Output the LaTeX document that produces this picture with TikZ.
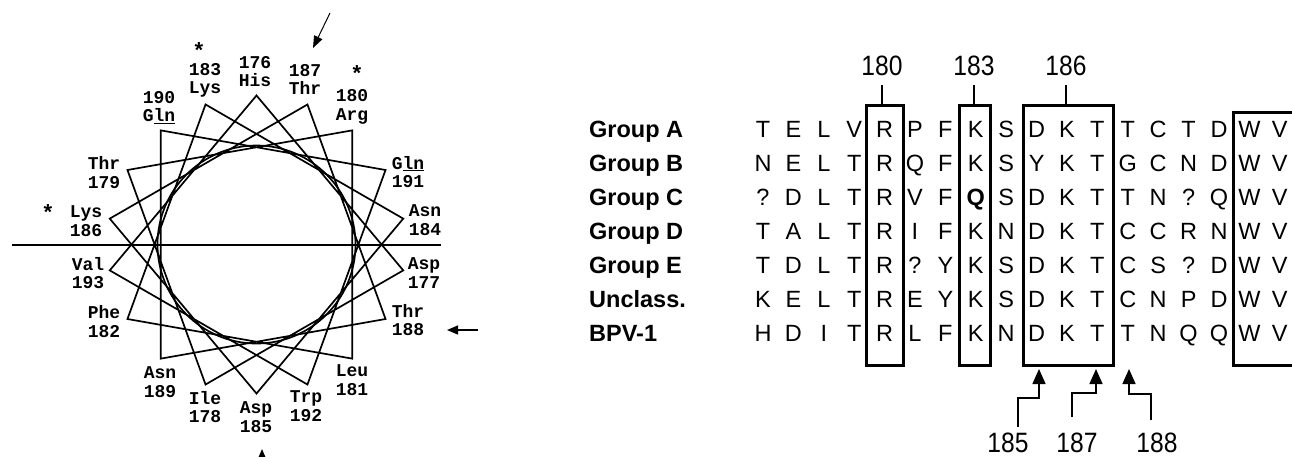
\documentclass[tikz,border=0pt]{standalone}
\usepackage{fontspec}
\setmainfont{Liberation Sans}
\newfontfamily\wheelfont{Liberation Mono}
\newfontfamily\numfont{Liberation Sans}[FakeStretch=0.88]
\usetikzlibrary{arrows.meta}
\begin{document}
\begin{tikzpicture}[x=1pt,y=-1pt,
  wl/.style={font=\wheelfont\bfseries\fontsize{18}{18.5}\selectfont, align=center, inner sep=0pt},
  starmark/.style={font=\wheelfont\bfseries\fontsize{22}{22}\selectfont, inner sep=0pt},
  wline/.style={line width=1.7pt},
  seq/.style={font=\fontsize{23.5}{24}\selectfont, anchor=base, inner sep=0pt},
  grp/.style={font=\bfseries\fontsize{23.5}{24}\selectfont, anchor=base west, inner sep=0pt},
  num/.style={font=\numfont\fontsize{28}{28}\selectfont, inner sep=0pt},
  boxline/.style={line width=3pt},
  tickline/.style={line width=2pt},
  parr/.style={line width=1.5pt, line join=miter, -{Triangle[length=15pt,width=13pt]}}
]
\path[use as bounding box] (0,0) rectangle (1292,456);
\clip (0,0) rectangle (1292,456);
\fill[white] (0,0) rectangle (1292,456);

% ---------------- helical wheel ----------------
\coordinate (c) at (256.5,244.5);
\foreach \k in {0,...,17} {
  \pgfmathsetmacro\a{90-100*\k}
  \coordinate (v\k) at ({256.5+149*cos(\a)},{244.5-149*sin(\a)});
}
\draw[wline] (v0) \foreach \k in {1,...,17} { -- (v\k) } -- cycle;
\draw[wline] (c) circle [radius=99];
\coordinate (hl) at (12,245);
\coordinate (hr) at (441,245);
\draw[wline] (hl) -- (hr);

\node[wl] (r183) at (205,80.5) {183\\Lys};
\node[wl] (r176) at (255,71.5) {176\\His};
\node[wl] (r187) at (305,79.5) {187\\Thr};
\node[wl] (r180) at (352,107) {180\\Arg};
\node[wl] (r190) at (159,107.5) {190\\G\underline{ln}};
\node[wl] (r179) at (104,172.5) {Thr\\179};
\node[wl] (r191) at (408,172) {G\underline{ln}\\191};
\node[wl] (r186) at (86,221) {Lys\\186};
\node[wl] (r184) at (425,220) {Asn\\184};
\node[wl] (r193) at (88,273) {Val\\193};
\node[wl] (r177) at (424,273) {Asp\\177};
\node[wl] (r182) at (104,321.5) {Phe\\182};
\node[wl] (r188) at (408,320) {Thr\\188};
\node[wl] (r189) at (160,382) {Asn\\189};
\node[wl] (r181) at (352,380) {Leu\\181};
\node[wl] (r178) at (205,407) {Ile\\178};
\node[wl] (r192) at (306,406) {Trp\\192};
\node[wl] (r185) at (256,417) {Asp\\185};

\node[starmark] (s183) at (199,51) {*};
\node[starmark] (s180) at (357,74) {*};
\node[starmark] (s186) at (48,213) {*};

\coordinate (ta1) at (330,13);
\coordinate (ta2) at (313,48);
\draw[line width=1pt, -{Triangle[length=12pt,width=9pt]}] (ta1) -- (ta2);
\coordinate (ra1) at (478,330);
\coordinate (ra2) at (447,330);
\draw[line width=1.3pt, -{Triangle[length=11pt,width=9pt]}] (ra1) -- (ra2);
\coordinate (ba1) at (262,480);
\coordinate (ba2) at (262,449);
\draw[line width=1.3pt, -{Triangle[length=11pt,width=9pt]}] (ba1) -- (ba2);

% ---------------- alignment ----------------
\foreach \r/\g/\s in {
  0/Group A/{T,E,L,V,R,P,F,K,S,D,K,T,T,C,T,D,W,V},
  1/Group B/{N,E,L,T,R,Q,F,K,S,Y,K,T,G,C,N,D,W,V},
  2/Group C/{?,D,L,T,R,V,F,\textbf{Q},S,D,K,T,T,N,?,Q,W,V},
  3/Group D/{T,A,L,T,R,I,F,K,N,D,K,T,C,C,R,N,W,V},
  4/Group E/{T,D,L,T,R,?,Y,K,S,D,K,T,C,S,?,D,W,V},
  5/Unclass./{K,E,L,T,R,E,Y,K,S,D,K,T,C,N,P,D,W,V},
  6/BPV-1/{H,D,I,T,R,L,F,K,N,D,K,T,T,N,Q,Q,W,V}} {
  \pgfmathsetmacro\yb{129+34*\r+8.5}
  \node[grp] (g\r) at (589,\yb) {\g};
  \foreach \c [count=\i from 0] in \s {
    \node[seq] (s\r-\i) at ({763+30.4*\i},\yb) {\c};
  }
}

% boxes
\draw[boxline] (866,105) rectangle (903,365);
\draw[boxline] (959,105) rectangle (990,365);
\draw[boxline] (1023,105) rectangle (1113,365);
\draw[boxline] (1233,112) rectangle (1310,365);

% top labels
\node[num] (n180) at (882,66) {180};
\node[num] (n183) at (974,66) {183};
\node[num] (n186) at (1066,66) {186};
\coordinate (t180a) at (882,85); \coordinate (t180b) at (882,105);
\coordinate (t183a) at (974,85); \coordinate (t183b) at (974,105);
\coordinate (t186a) at (1066,85); \coordinate (t186b) at (1066,105);
\draw[tickline] (t180a) -- (t180b);
\draw[tickline] (t183a) -- (t183b);
\draw[tickline] (t186a) -- (t186b);

% bottom arrows
\node[num] (n185) at (1008,443) {185};
\node[num] (n187) at (1077,443) {187};
\node[num] (n188) at (1157,443) {188};
\coordinate (a185s) at (1018,427); \coordinate (a185e) at (1039,398); \coordinate (a185t) at (1039,369);
\coordinate (a187s) at (1072,417); \coordinate (a187e) at (1096,393); \coordinate (a187t) at (1096,369);
\coordinate (a188s) at (1151,420); \coordinate (a188e) at (1129,394); \coordinate (a188t) at (1129,369);
\draw[parr] (a185s) |- (a185e) -- (a185t);
\draw[parr] (a187s) |- (a187e) -- (a187t);
\draw[parr] (a188s) |- (a188e) -- (a188t);
\end{tikzpicture}
\end{document}
